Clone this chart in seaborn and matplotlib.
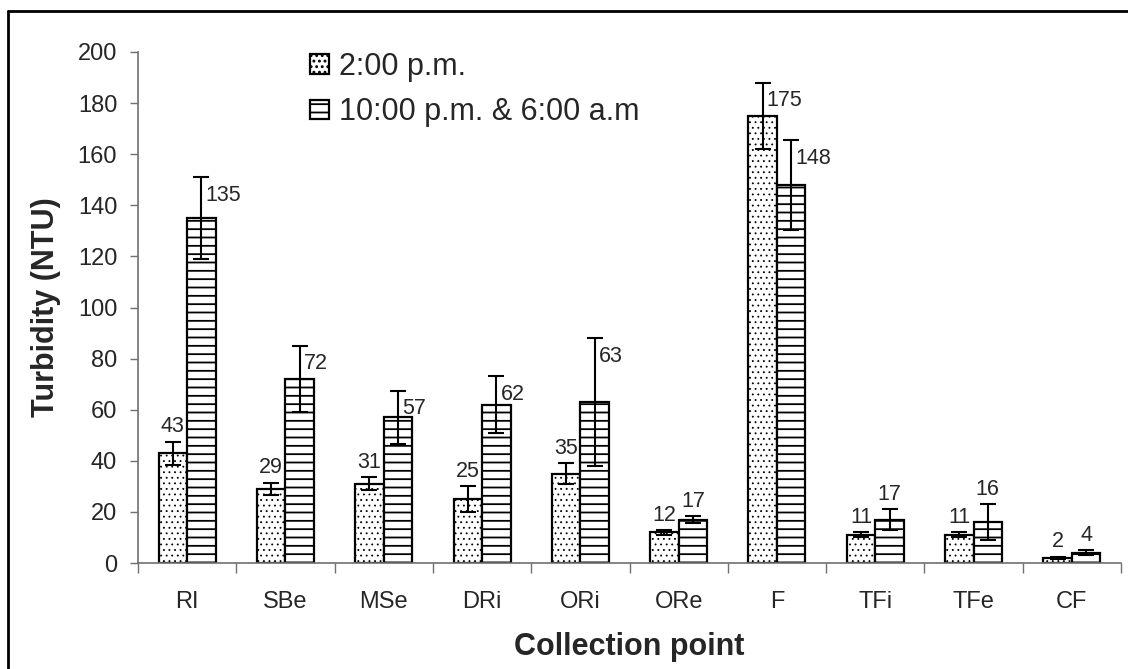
import numpy as np
import pandas as pd
import matplotlib
matplotlib.use('Agg')
import matplotlib.pyplot as plt
import seaborn as sns

# Data
points = ['RI', 'SBe', 'MSe', 'DRi', 'ORi', 'ORe', 'F', 'TFi', 'TFe', 'CF']
day = [43, 29, 31, 25, 35, 12, 175, 11, 11, 2]
night = [135, 72, 57, 62, 63, 17, 148, 17, 16, 4]
day_err = [4.5, 2.5, 2.5, 5, 4, 1, 13, 1, 1, 0.5]
night_err = [16, 13, 10.5, 11, 25, 1.5, 17.5, 4, 7, 1]
series = ['2:00 p.m.', '10:00 p.m. & 6:00 a.m']

sns.set_theme(style='white')
plt.rcParams['font.family'] = ['Liberation Sans', 'DejaVu Sans']
plt.rcParams['hatch.linewidth'] = 1.3

df = pd.DataFrame({
    'point': points * 2,
    'value': day + night,
    'err': day_err + night_err,
    'time': [series[0]] * len(points) + [series[1]] * len(points),
})

fig = plt.figure(figsize=(11.28, 6.69), dpi=100)
ax = fig.add_axes([138 / 1128, 1 - 563 / 669, 983 / 1128, 511 / 669])

sns.barplot(data=df, x='point', y='value', hue='time', hue_order=series,
            palette=['white', 'white'], saturation=1, width=0.58,
            edgecolor='black', linewidth=1.6, errorbar=None, legend=False, ax=ax)

hatches = ['...', '--']
for cont, h, s in zip(ax.containers, hatches, series):
    sub = df[df['time'] == s]
    for bar, v, e in zip(cont.patches, sub['value'], sub['err']):
        bar.set_hatch(h)
        if h == '...' and hasattr(bar, 'set_hatch_linewidth'):
            bar.set_hatch_linewidth(0.6)
        xc = bar.get_x() + bar.get_width() / 2
        ax.errorbar(xc, v, yerr=e, fmt='none', ecolor='black',
                    elinewidth=1.5, capsize=6, capthick=1.5, zorder=5)
        # labels beside the error bar when a centred one would clash
        beside = (s == series[1] and v > 50) or v > 100
        if beside:
            ax.annotate(f'{v:g}', (xc, v + e), xytext=(3, -13),
                        textcoords='offset points', ha='left', va='center',
                        fontsize=15.5)
        else:
            ax.annotate(f'{v:g}', (xc, v + e), xytext=(0, 3),
                        textcoords='offset points', ha='center', va='bottom',
                        fontsize=15.5)

ax.legend(handles=ax.containers, labels=series, loc='upper left',
          bbox_to_anchor=(0.175, 1.0), frameon=False, fontsize=22,
          handlelength=0.62, handleheight=0.62, handletextpad=0.33,
          labelspacing=0.5, borderpad=0, borderaxespad=0)

ax.set_ylim(0, 200)
ax.set_yticks(np.arange(0, 201, 20))
ax.set_xlim(-0.5, len(points) - 0.5)
ax.set_xticks(np.arange(-0.5, len(points), 1), minor=True)
ax.tick_params(axis='x', which='major', length=0, labelsize=17, pad=20)
ax.tick_params(axis='x', which='minor', length=7, width=1, color='#707070',
               direction='out', bottom=True)
ax.tick_params(axis='y', length=6, width=1, color='#707070', direction='out',
               left=True, labelsize=17, pad=9)

for side in ['top', 'right']:
    ax.spines[side].set_visible(False)
for side in ['left', 'bottom']:
    ax.spines[side].set_color('#707070')
    ax.spines[side].set_linewidth(1.2)

ax.set_xlabel('Collection point', fontsize=22, fontweight='bold', labelpad=14)
ax.set_ylabel('Turbidity (NTU)', fontsize=22, fontweight='bold', labelpad=12)

# outer frame of the original figure (left and top edges visible)
fig.add_artist(plt.Line2D([8 / 1128, 8 / 1128], [0, 1 - 11 / 669],
                          transform=fig.transFigure, color='black', lw=2))
fig.add_artist(plt.Line2D([8 / 1128, 1], [1 - 11 / 669, 1 - 11 / 669],
                          transform=fig.transFigure, color='black', lw=2))

fig.savefig('out.png', dpi=100)
